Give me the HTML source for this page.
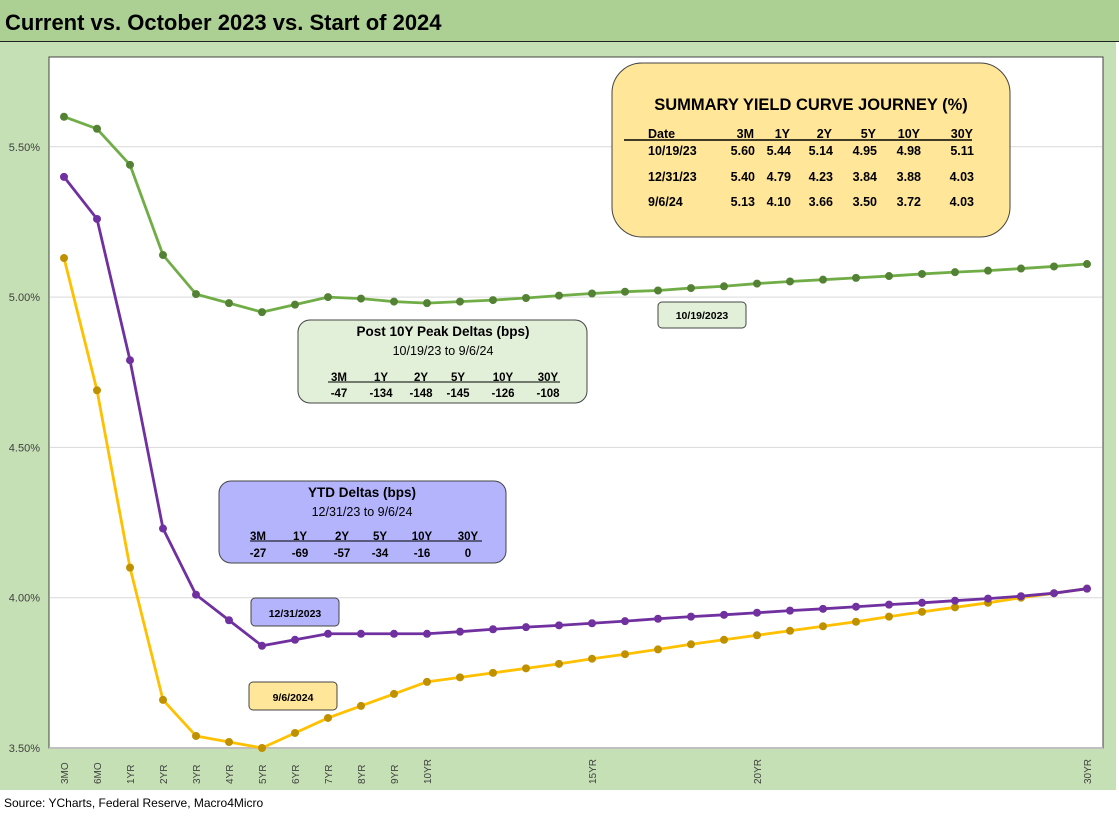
<!DOCTYPE html>
<html><head><meta charset="utf-8"><style>
html,body{margin:0;padding:0;background:#fff;}
svg{display:block;font-family:"Liberation Sans",sans-serif;}
.b{font-weight:bold;}
</style></head><body>
<svg id="chart" width="1119" height="820" viewBox="0 0 1119 820">
<rect x="0" y="0" width="1119" height="41" fill="#acd094"/>
<line x1="0" y1="41.5" x2="1119" y2="41.5" stroke="#222" stroke-width="1"/>
<text x="5" y="30" font-size="22" class="b" fill="#000">Current vs. October 2023 vs. Start of 2024</text>
<rect x="0" y="42" width="1116" height="748" fill="#c5e0b4"/>
<rect x="49" y="57" width="1054" height="691" fill="#fff" stroke="#444" stroke-width="1"/>
<g id="grid"></g><g id="yticks"></g><g id="xticks"></g><g id="series"></g>
<text x="4" y="807" font-size="12" fill="#000">Source: YCharts, Federal Reserve, Macro4Micro</text>

<g>
<rect x="612" y="63" width="398" height="174" rx="30" fill="#ffe699" stroke="#444" stroke-width="1"/>
<text x="811" y="110" font-size="16.5" class="b" text-anchor="middle">SUMMARY YIELD CURVE JOURNEY (%)</text>
<line x1="624" y1="140" x2="972" y2="140" stroke="#000" stroke-width="1.5"/>
<g font-size="12.5" class="b" id="summary"></g>
</g>

<g>
<rect x="298" y="320" width="289" height="83" rx="12" fill="#e2efd9" stroke="#444" stroke-width="1"/>
<text x="443" y="336" font-size="13.5" class="b" text-anchor="middle">Post 10Y Peak Deltas (bps)</text>
<text x="443" y="355" font-size="12.5" text-anchor="middle">10/19/23 to 9/6/24</text>
<line x1="328" y1="382" x2="560" y2="382" stroke="#000" stroke-width="1"/>
<g font-size="11.5" text-anchor="middle" id="peak"></g>
</g>

<g>
<rect x="219" y="481" width="287" height="82" rx="12" fill="#b4b4fc" stroke="#444" stroke-width="1"/>
<text x="362" y="497" font-size="13.5" class="b" text-anchor="middle">YTD Deltas (bps)</text>
<text x="362" y="516" font-size="12.5" text-anchor="middle">12/31/23 to 9/6/24</text>
<line x1="250" y1="541" x2="482" y2="541" stroke="#000" stroke-width="1"/>
<g font-size="11.5" text-anchor="middle" id="ytd"></g>
</g>

<g>
<rect x="658" y="302" width="88" height="26" rx="4" fill="#e2efd9" stroke="#444"/>
<text x="702" y="319" font-size="10.5" class="b" text-anchor="middle">10/19/2023</text></g>
<g>
<rect x="251" y="598" width="88" height="28" rx="4" fill="#b4b4fc" stroke="#444"/>
<text x="295" y="617" font-size="10.5" class="b" text-anchor="middle">12/31/2023</text></g>
<g>
<rect x="249" y="682" width="88" height="28" rx="4" fill="#ffe699" stroke="#444"/>
<text x="293" y="701" font-size="10.5" class="b" text-anchor="middle">9/6/2024</text></g>
</svg>
<script>
const categories=["3MO","6MO","1YR","2YR","3YR","4YR","5YR","6YR","7YR","8YR","9YR","10YR","11YR","12YR","13YR","14YR","15YR","16YR","17YR","18YR","19YR","20YR","21YR","22YR","23YR","24YR","25YR","26YR","27YR","28YR","29YR","30YR"];
const shownLabels=["3MO","6MO","1YR","2YR","3YR","4YR","5YR","6YR","7YR","8YR","9YR","10YR","15YR","20YR","30YR"];
const oct2023=[5.60,5.56,5.44,5.14,5.01,4.98,4.95,4.975,5.00,4.995,4.985,4.98,4.985,4.99,4.997,5.005,5.012,5.018,5.022,5.03,5.036,5.045,5.052,5.058,5.064,5.07,5.077,5.083,5.088,5.095,5.102,5.11];
const dec2023=[5.40,5.26,4.79,4.23,4.01,3.925,3.84,3.86,3.88,3.88,3.88,3.88,3.887,3.895,3.902,3.908,3.915,3.922,3.93,3.937,3.943,3.95,3.957,3.963,3.97,3.977,3.983,3.99,3.997,4.005,4.015,4.03];
const sep2024=[5.13,4.69,4.10,3.66,3.54,3.52,3.50,3.55,3.60,3.64,3.68,3.72,3.735,3.75,3.765,3.78,3.797,3.812,3.828,3.845,3.86,3.875,3.89,3.905,3.92,3.937,3.953,3.968,3.983,4.0,4.015,4.03];
const yTicks=[3.5,4.0,4.5,5.0,5.5];
const sumCols=["3M","1Y","2Y","5Y","10Y","30Y"];
const sumDates=["10/19/23","12/31/23","9/6/24"];
const sumRows=[["5.60","5.44","5.14","4.95","4.98","5.11"],["5.40","4.79","4.23","3.84","3.88","4.03"],["5.13","4.10","3.66","3.50","3.72","4.03"]];
const peakVals=["-47","-134","-148","-145","-126","-108"];
const ytdVals=["-27","-69","-57","-34","-16","0"];

const NS="http://www.w3.org/2000/svg";
function mk(t,a,p,txt){const e=document.createElementNS(NS,t);for(const k in a)e.setAttribute(k,a[k]);if(txt!==undefined)e.textContent=txt;p.appendChild(e);return e;}
const x=i=>64+i*33.0;
const y=v=>748-(v-3.5)/0.5*150.3;
const grid=document.getElementById('grid'),yt=document.getElementById('yticks'),xt=document.getElementById('xticks'),ser=document.getElementById('series');
yTicks.forEach(v=>{
 if(v>3.5){const g=mk('line',{x1:50,x2:1102,y1:y(v),y2:y(v),stroke:'#d9d9d9','stroke-width':1},grid);
 
 }
 const t=mk('text',{x:40,y:y(v)+4,'font-size':11,'text-anchor':'end',fill:'#404040'},yt,v.toFixed(2)+'%');
 
 
});
mk('line',{x1:49,x2:1103,y1:748,y2:748,stroke:'#bfbfbf','stroke-width':2},grid);
categories.forEach((c,i)=>{
 if(shownLabels.indexOf(c)<0)return;
 const t=mk('text',{transform:`translate(${x(i)+4},${784}) rotate(-90)`,'font-size':10,fill:'#404040'},xt,c);
 
 
});
function series(vals,line,dot,name){
 const g=mk('g',{},ser);
 
 
 mk('polyline',{points:vals.map((v,i)=>x(i)+','+y(v)).join(' '),fill:'none',stroke:line,'stroke-width':2.8,'stroke-linejoin':'round'},g);
 vals.forEach((v,i)=>{const c=mk('circle',{cx:x(i),cy:y(v),r:4,fill:dot},g);
 
 });
}
series(sep2024,'#ffc000','#bf9000','series-9-6-2024');
series(dec2023,'#7030a0','#7030a0','series-12-31-2023');
series(oct2023,'#70ad47','#548235','series-10-19-2023');
const sm=document.getElementById('summary');
const colR=[754,790,832,876,920,973];
mk('text',{x:648,y:138},sm,'Date');
sumCols.forEach((c,j)=>mk('text',{x:colR[j],y:138,'text-anchor':'end'},sm,c));
const rowY=[155,181,206];
sumRows.forEach((r,k)=>{mk('text',{x:648,y:rowY[k]},sm,sumDates[k]);
 r.forEach((v,j)=>mk('text',{x:colR[j]+1,y:rowY[k],'text-anchor':'end'},sm,v));});
function deltas(id,vals,cx,hy,vy){const g=document.getElementById(id);
 sumCols.forEach((c,j)=>{mk('text',{x:cx[j],y:hy,'font-weight':'bold'},g,c);mk('text',{x:cx[j],y:vy,'font-weight':'bold'},g,vals[j]);});}
deltas('peak',peakVals,[339,381,421,458,503,548],381,397);
deltas('ytd',ytdVals,[258,300,342,380,422,468],540,557);
</script>
</body></html>
